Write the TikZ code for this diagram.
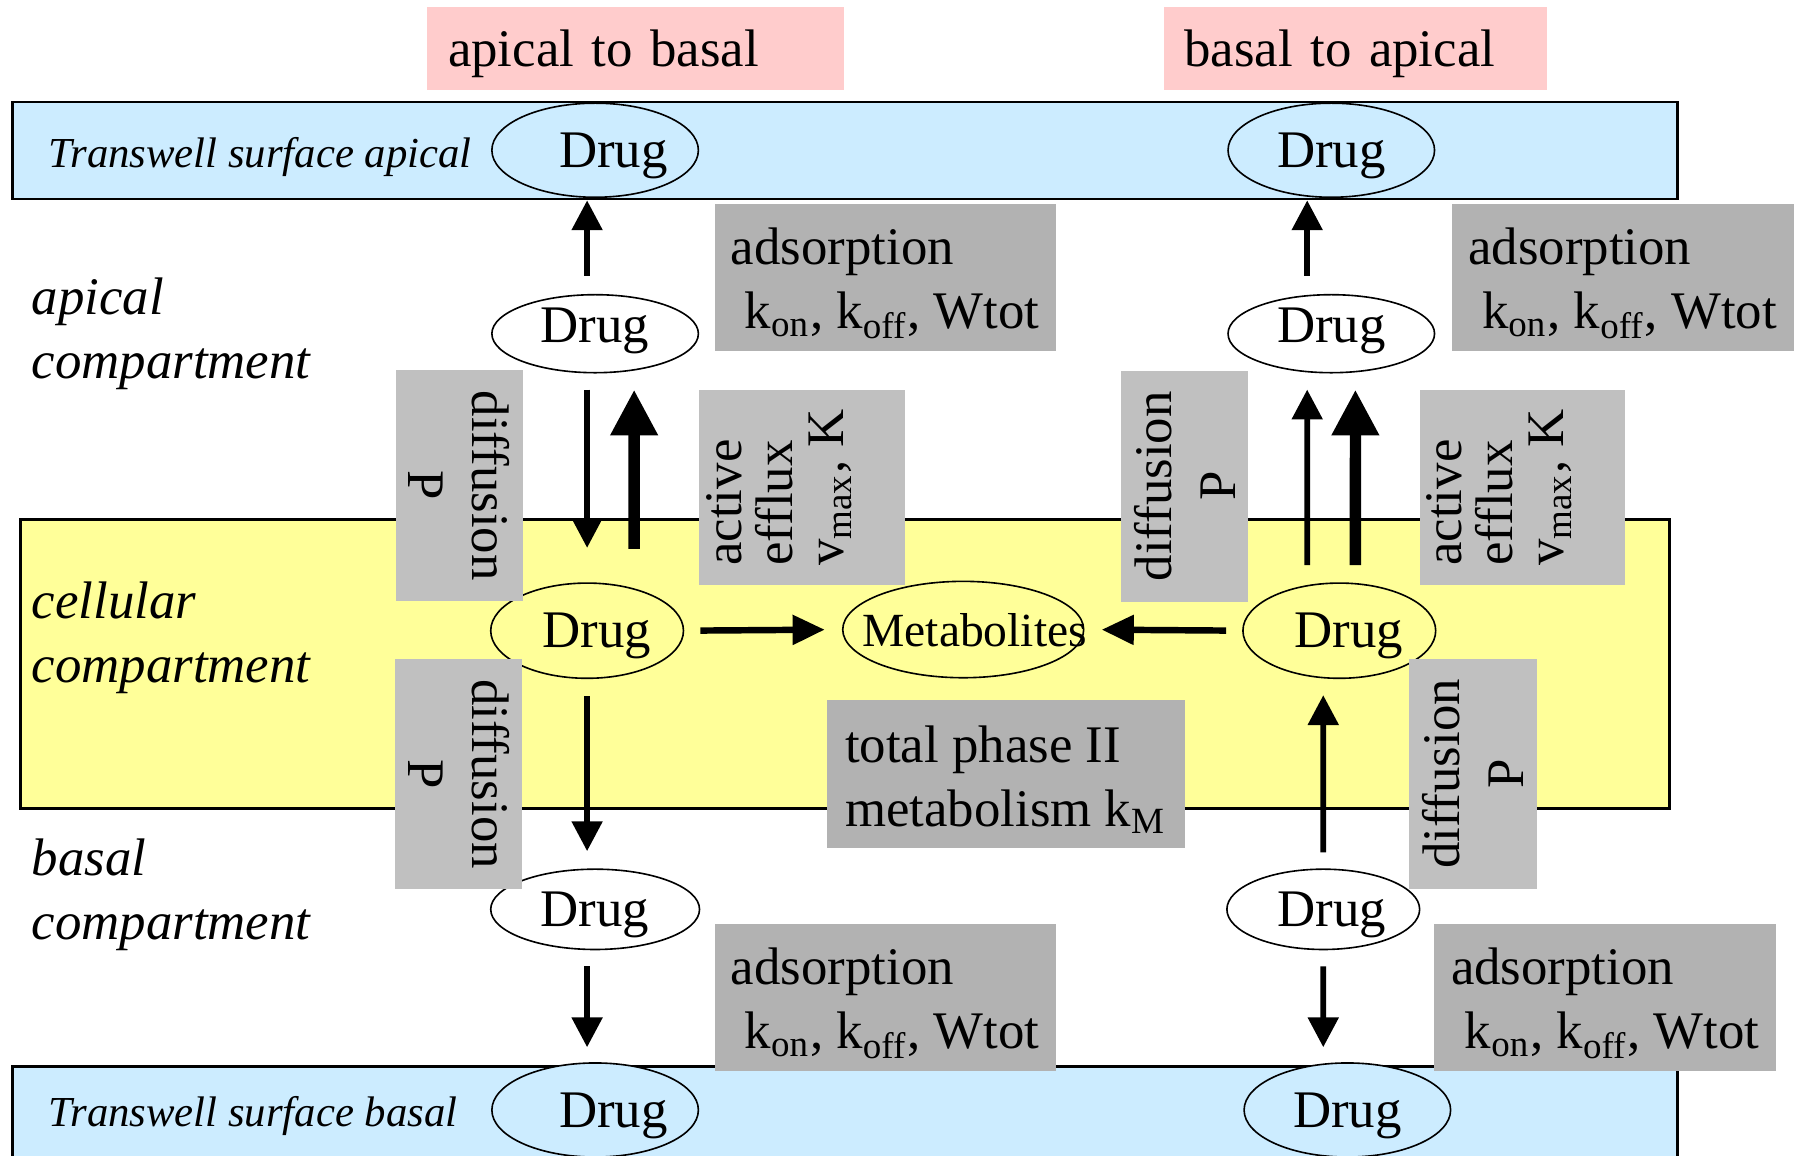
\documentclass[tikz,border=0pt]{standalone}
\usepackage{fontspec}
\setmainfont{Liberation Serif}
\usepackage{tikz}
\usetikzlibrary{arrows.meta}
\usetikzlibrary{shapes.geometric}

\definecolor{bandblue}{HTML}{CCECFF}
\definecolor{cellyellow}{HTML}{FFFF99}
\definecolor{tagpink}{HTML}{FFCCCC}
\definecolor{boxdark}{HTML}{B2B2B2}
\definecolor{boxlight}{HTML}{C0C0C0}

\begin{document}
\begin{tikzpicture}[x=0.01cm, y=-0.01cm, >={Triangle[length=0.26cm, width=0.26cm]},
    band/.style={rectangle, draw, line width=0.6pt, inner sep=0pt, anchor=north west},
    tag box/.style={rectangle, fill=tagpink, inner xsep=0.18cm, inner ysep=0pt, anchor=north west, align=left, minimum height=0.73cm, font=\fontsize{13.1}{15.9}\selectfont},
    surface label/.style={inner sep=0pt, anchor=base west, font=\fontsize{10.6}{12.7}\selectfont\itshape},
    comp label/.style={inner sep=0pt, anchor=west, align=left, font=\fontsize{13.1}{15.9}\selectfont\itshape},
    drug node/.style={ellipse, draw, thin, inner sep=0pt, text height=0.34cm, text depth=0.04cm, font=\fontsize{13.1}{15.9}\selectfont},
    surface drug/.style={drug node, fill=bandblue, minimum width=1.8cm, minimum height=0.82cm},
    comp drug/.style={drug node, fill=white, minimum width=1.8cm, minimum height=0.7cm},
    cell drug/.style={drug node, fill=cellyellow, minimum width=1.68cm, minimum height=0.83cm},
    ads box/.style={rectangle, fill=boxdark, inner sep=0pt, minimum width=2.97cm, minimum height=1.28cm, align=left, font=\fontsize{13.1}{15.9}\selectfont},
    diff box/.style={rectangle, fill=boxlight, inner sep=0pt, minimum width=2.01cm, minimum height=1.11cm, align=center, font=\fontsize{13.1}{15.9}\selectfont},
    eff box/.style={rectangle, fill=boxlight, inner sep=0pt, minimum width=1.70cm, minimum height=1.79cm, align=left, rotate=90, font=\fontsize{13.1}{12.7}\selectfont},
    thin arrow/.style={->, line width=1.4pt},
    thick arrow/.style={-{Triangle[length=0.40cm, width=0.39cm]}, line width=2.8pt},
    flow arrow/.style={-{Triangle[length=0.28cm, width=0.25cm]}, line width=1.6pt}]

    \useasboundingbox (0,0) rectangle (1568,1008);
    \clip (0,0) rectangle (1568,1008);

    % compartments
    \node[band, fill=bandblue, minimum width=14.51cm, minimum height=0.845cm] (sfAp) at (10,88) {};
    \node[band, fill=cellyellow, minimum width=14.37cm, minimum height=2.52cm] (cell) at (17,452) {};
    \node[band, fill=bandblue, minimum width=14.51cm, minimum height=1.2cm] (sfBa) at (10,929) {};

    \node[tag box, text width=3.27cm] (a2b) at (372,5) {\rule{0pt}{0.42cm}apical to basal};
    \node[tag box, text width=2.98cm] (b2a) at (1014,5) {\rule{0pt}{0.42cm}basal to apical};

    \node[surface label] (sfApTxt) at (42,146) {Transwell surface apical};
    \node[surface label] (sfBaTxt) at (42,982) {Transwell surface basal};
    \node[comp label] (apComp) at (27,291) {apical\\compartment};
    \node[comp label] (ceComp) at (27,556) {cellular\\compartment};
    \node[comp label] (baComp) at (27,780) {basal\\compartment};

    % drug pools
    \node[surface drug] (sfApL) at (519,131) {\makebox[0pt]{\hspace*{0.32cm}Drug}};
    \node[surface drug] (sfApR) at (1161,131) {Drug};
    \node[comp drug, minimum height=0.68cm, text height=0.30cm, text depth=0.14cm] (dApL) at (519,291) {Drug};
    \node[comp drug, minimum height=0.68cm, text height=0.30cm, text depth=0.14cm] (dApR) at (1161,291) {Drug};
    \node[cell drug] (dCeL) at (512,550) {\makebox[0pt]{\hspace*{0.17cm}Drug}};
    \node[cell drug, minimum width=2.1cm, minimum height=0.84cm, font=\fontsize{11.8}{14}\selectfont] (metab) at (840,549) {\makebox[0pt]{\hspace*{0.2cm}Metabolites}};
    \node[cell drug] (dCeR) at (1168,550) {\makebox[0pt]{\hspace*{0.17cm}Drug}};
    \node[comp drug, minimum width=1.82cm] (dBaL) at (519,793) {Drug};
    \node[comp drug, minimum width=1.68cm] (dBaR) at (1154,793) {\makebox[0pt]{\hspace*{0.15cm}Drug}};
    \node[surface drug] (sfBaL) at (519,968) {\makebox[0pt]{\hspace*{0.32cm}Drug}};
    \node[surface drug] (sfBaR) at (1175,968) {Drug};

    % parameters
    \node[ads box] (adsApL) at (772,242) {\rule{0pt}{0.42cm}adsorption\\\hspace*{0.12cm}k\textsubscript{on}, k\textsubscript{off}, Wtot};
    \node[ads box, minimum width=2.98cm] (adsApR) at (1415,242) {\rule{0pt}{0.42cm}adsorption\\\hspace*{0.12cm}k\textsubscript{on}, k\textsubscript{off}, Wtot};
    \node[ads box] (adsBaL) at (772,870) {\rule{0pt}{0.42cm}adsorption\\\hspace*{0.12cm}k\textsubscript{on}, k\textsubscript{off}, Wtot};
    \node[ads box, minimum width=2.98cm] (adsBaR) at (1400,870) {\rule{0pt}{0.42cm}adsorption\\\hspace*{0.12cm}k\textsubscript{on}, k\textsubscript{off}, Wtot};
    \node[ads box, minimum width=3.12cm, minimum height=1.29cm] (phase) at (877,675) {\rule{0pt}{0.42cm}total phase II\\metabolism k\textsubscript{M}};

    \node[diff box, rotate=-90] (difApL) at (400.5,423.5) {diffusion\\P};
    \node[diff box, rotate=-90] (difBaL) at (400,675) {diffusion\\P};
    \node[diff box, rotate=90] (difApR) at (1033,424) {diffusion\\P};
    \node[diff box, rotate=90] (difBaR) at (1284.5,675) {diffusion\\P};

    \node[eff box] (effL) at (699.5,425) {active\\efflux\\v\textsubscript{max}, K\rule[-0.47cm]{0pt}{0pt}};
    \node[eff box] (effR) at (1327.5,425) {active\\efflux\\v\textsubscript{max}, K\rule[-0.47cm]{0pt}{0pt}};

    % apical to basal
    \draw[thin arrow, shorten <=0.16cm, shorten >=0.02cm] (dApL.north -| dCeL) -- (sfApL.south -| dCeL);
    \draw[thin arrow, shorten <=0.14cm, shorten >=0.30cm] (dApL.south -| dCeL) -- (dCeL.north);
    \draw[thick arrow, shorten <=0.29cm, shorten >=0.14cm] ([xshift=0.41cm]dCeL.north) -- ([xshift=0.34cm]dApL.south);
    \draw[flow arrow, shorten <=0.14cm, shorten >=0.15cm] (dCeL.east) -- (metab.west);
    \draw[thin arrow, shorten <=0.15cm, shorten >=0.15cm] (dCeL.south) -- (dBaL.north -| dCeL);
    \draw[thin arrow, shorten <=0.14cm, shorten >=0.13cm] (dBaL.south -| dCeL) -- (sfBaL.north -| dCeL);

    % basal to apical
    \draw[thin arrow, shorten <=0.16cm, shorten >=0.02cm] ([xshift=-0.21cm]dApR.north) -- ([xshift=-0.21cm]sfApR.south);
    \draw[thin arrow, shorten <=0.15cm, shorten >=0.14cm] ([xshift=-0.28cm]dCeR.north) -- ([xshift=-0.21cm]dApR.south);
    \draw[thick arrow, shorten <=0.15cm, shorten >=0.14cm] ([xshift=0.14cm]dCeR.north) -- ([xshift=0.21cm]dApR.south);
    \draw[flow arrow, shorten <=0.14cm, shorten >=0.15cm] (dCeR.west) -- (metab.east);
    \draw[thin arrow, shorten <=0.14cm, shorten >=0.14cm] (dBaR.north) -- ([xshift=-0.14cm]dCeR.south);
    \draw[thin arrow, shorten <=0.14cm, shorten >=0.13cm] (dBaR.south) -- ([xshift=-0.21cm]sfBaR.north);

\end{tikzpicture}
\end{document}
